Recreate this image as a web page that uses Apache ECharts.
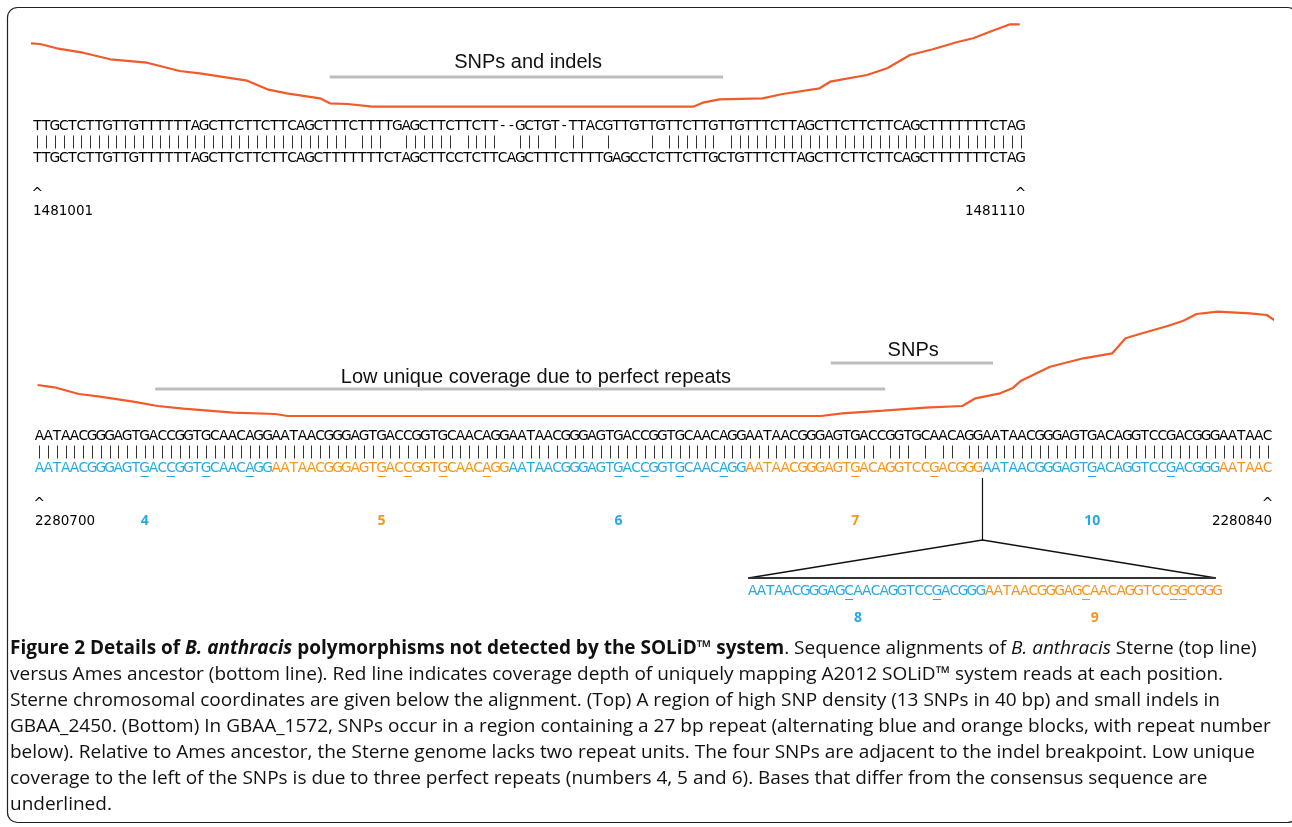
<!DOCTYPE html>
<html><head><meta charset="utf-8">
<script src="https://cdn.jsdelivr.net/npm/echarts@6/dist/echarts.min.js"></script>
<style>html,body{margin:0;padding:0;background:#fff}#c{width:1292px;height:827px}</style>
</head><body><div id="c"></div>
<script>
// ================= DATA =================
// Top panel (GBAA_2450): Sterne (top line) vs Ames ancestor (bottom line)
const topSterne = "TTGCTCTTGTTGTTTTTTAGCTTCTTCTTCAGCTTTCTTTTGAGCTTCTTCTT--GCTGT-TTACGTTGTTGTTCTTGTTGTTTCTTAGCTTCTTCTTCAGCTTTTTTTCTAG";
const topAmes   = "TTGCTCTTGTTGTTTTTTAGCTTCTTCTTCAGCTTTTTTTCTAGCTTCCTCTTCAGCTTTCTTTTGAGCCTCTTCTTGCTGTTTCTTAGCTTCTTCTTCAGCTTTTTTTCTAG";
const topCoords = ["1481001", "1481110"];
// coverage depth (alignment column, depth)
const topCovPos   = [-0.8, 0.3, 2.2, 5.2, 8.3, 12.5, 14.3, 16.2, 18.5, 23.9, 26.2, 28.4, 32.2, 33.3, 35.3, 38.2, 74.7, 75.8, 77.7, 82.6, 84.9, 89.1, 90.3, 94.5, 96.8, 99.4, 102.0, 104.7, 106.6, 108.5, 110.8, 111.9];
const topCovDepth = [66.7, 66, 61.7, 57.3, 50.7, 47.3, 43.3, 39, 36.7, 29.3, 20.7, 16.7, 11.7, 6.7, 6, 3.3, 3.3, 7.3, 10.7, 11.7, 16, 21.7, 28.3, 35, 41.7, 55, 60.7, 67.7, 71.7, 78.3, 85.7, 85.7];
const topAnnotLabels = ["SNPs and indels"];
const topAnnotFrom   = [33.3];
const topAnnotTo     = [78.1];
const topAnnotText   = [55.9];

// Bottom panel (GBAA_1572)
const botSterne = "AATAACGGGAGTGACCGGTGCAACAGGAATAACGGGAGTGACCGGTGCAACAGGAATAACGGGAGTGACCGGTGCAACAGGAATAACGGGAGTGACCGGTGCAACAGGAATAACGGGAGTGACAGGTCCGACGGGAATAAC";
const botAmesBlocks = ["AATAACGGGAGTGACCGGTGCAACAGG", "AATAACGGGAGTGACCGGTGCAACAGG", "AATAACGGGAGTGACCGGTGCAACAGG", "AATAACGGGAGTGACAGGTCCGACGGG", "AATAACGGGAGTGACAGGTCCGACGGG", "AATAAC"];
const botBlockNums  = ["4", "5", "6", "7", "10", ""];
const botBlockUnder = [[12, 15, 19, 24], [12, 15, 19, 24], [12, 15, 19, 24], [12, 21], [12, 21], []];
const botCoords = ["2280700", "2280840"];
const insetBlocks = ["AATAACGGGAGCAACAGGTCCGACGGG", "AATAACGGGAGCAACAGGTCCGGCGGG"];
const insetNums   = ["8", "9"];
const insetUnder  = [[11, 21], [11, 21, 22]];
const botCovPos   = [-0.2, 1.7, 4.5, 6.9, 10.7, 13.5, 16.4, 22.1, 26.9, 28.3, 89.1, 91.5, 96.2, 101.0, 105.2, 106.7, 109.5, 110.9, 111.9, 115.2, 119.0, 122.3, 123.8, 125.7, 128.6, 130.4, 131.9, 134.3, 138.0, 139.9, 141.3, 142.2];
const botCovDepth = [35, 32.7, 26, 23.3, 18.3, 14, 11.3, 7.3, 6, 4, 4, 6.7, 9.3, 12.3, 14, 21.7, 26.7, 31.7, 39.3, 53.3, 61.7, 66.7, 81.7, 86.7, 94, 99.3, 106, 108.3, 106.7, 105, 96.7, 95.7];
const botAnnotLabels = ["Low unique coverage due to perfect repeats", "SNPs"];
const botAnnotFrom   = [13.2, 90.2];
const botAnnotTo     = [96.4, 108.7];
const botAnnotText   = [56.6, 99.6];

// ================= STYLE / LAYOUT =================
const BLUE = '#27AAE1', ORANGE = '#F7941D', RED = '#F15A29', GREY = '#BDBDBD';
const SEQ_FONT = '13.8px "DejaVu Sans"';
const COORD_FONT = '13.5px "DejaVu Sans"';
const NUM_FONT = 'bold 14px "Open Sans"';
const ANN_FONT = '20px "Liberation Sans"';
const ROW = {seq1: 16, match: 32, seq2: 48, caret: 84, coord: 101, apex: 120, base: 158, inset: 171, insetNum: 198};
const ANN_BAR = {top: [33], bot: [31, 57]};
const ANN_TXT = {top: [48], bot: [43, 70]};
const INSET_OFFSET = 81.3;
const blockColor = i => (i % 2 === 0 ? BLUE : ORANGE);

// ================= BUILD ITEMS =================
function alignmentItems(s1, s2Colors, s2, s2Under) {
  const items = [];
  for (let i = 0; i < s1.length; i++) {
    items.push({c: i, r: ROW.seq1, t: s1[i], color: '#000', font: SEQ_FONT});
    if (s1[i] === s2[i] && s1[i] !== '-') items.push({c: i, r: ROW.match, kind: 'bar'});
    items.push({c: i, r: ROW.seq2, t: s2[i], color: s2Colors[i], font: SEQ_FONT, ul: s2Under[i]});
  }
  return items;
}
// top
const topItems = alignmentItems(topSterne, Array(topAmes.length).fill('#000'), topAmes, Array(topAmes.length).fill(false));
topItems.push({c: 0, r: ROW.caret, t: '^', color: '#000', font: SEQ_FONT});
topItems.push({c: topSterne.length - 1, r: ROW.caret, t: '^', color: '#000', font: SEQ_FONT});
topItems.push({c: -0.5, r: ROW.coord, t: topCoords[0], color: '#000', font: COORD_FONT, align: 'left'});
topItems.push({c: topSterne.length - 0.5, r: ROW.coord, t: topCoords[1], color: '#000', font: COORD_FONT, align: 'right'});

// bottom
let botAmes = '', botColors = [], botUl = [];
const blockStarts = [];
botAmesBlocks.forEach((b, k) => {
  blockStarts.push(botAmes.length);
  for (let j = 0; j < b.length; j++) { botColors.push(blockColor(k)); botUl.push(botBlockUnder[k].includes(j)); }
  botAmes += b;
});
const botItems = alignmentItems(botSterne, botColors, botAmes, botUl);
botItems.push({c: 0, r: ROW.caret, t: '^', color: '#000', font: SEQ_FONT});
botItems.push({c: botSterne.length - 1, r: ROW.caret, t: '^', color: '#000', font: SEQ_FONT});
botItems.push({c: -0.5, r: ROW.coord, t: botCoords[0], color: '#000', font: COORD_FONT, align: 'left'});
botItems.push({c: botSterne.length - 0.5, r: ROW.coord, t: botCoords[1], color: '#000', font: COORD_FONT, align: 'right'});
botBlockNums.forEach((n, k) => { if (n) botItems.push({c: blockStarts[k] + 12, r: ROW.coord, t: n, color: blockColor(k), font: NUM_FONT}); });
// breakpoint & triangle
const BREAK = blockStarts[4] - 0.5;
let insetLen = 0; insetBlocks.forEach(b => insetLen += b.length);
botItems.push({c: BREAK, r: 58, kind: 'poly', pts: [[BREAK, 58], [BREAK, ROW.apex]], w: 1.2, stroke: '#111'});
botItems.push({c: BREAK, r: ROW.apex, kind: 'poly', pts: [[INSET_OFFSET - 0.5, ROW.base], [BREAK, ROW.apex], [INSET_OFFSET + insetLen - 1.2, ROW.base]], w: 1.3, stroke: '#111'});
botItems.push({c: INSET_OFFSET, r: ROW.base, kind: 'poly', pts: [[INSET_OFFSET - 0.5, ROW.base], [INSET_OFFSET + insetLen - 1.2, ROW.base]], w: 2, stroke: '#333'});
// inset
let ic = 0;
insetBlocks.forEach((b, k) => {
  for (let j = 0; j < b.length; j++) {
    botItems.push({c: INSET_OFFSET + ic + j, r: ROW.inset, t: b[j], color: blockColor(k), font: SEQ_FONT, ul: insetUnder[k].includes(j)});
  }
  botItems.push({c: INSET_OFFSET + ic + 12, r: ROW.insetNum, t: insetNums[k], color: blockColor(k), font: NUM_FONT});
  ic += b.length;
});

// ================= SERIES HELPERS =================
function textSeries(idx, items) {
  return {
    type: 'custom', coordinateSystem: 'cartesian2d', xAxisIndex: idx, yAxisIndex: idx,
    silent: true, clip: false, animation: false,
    data: items.map(d => [d.c, d.r]),
    renderItem: function (params, api) {
      const d = items[params.dataIndex];
      const p = api.coord([api.value(0), api.value(1)]);
      if (d.kind === 'bar') {
        const x = Math.round(p[0]) + 0.5;
        return {type: 'line', shape: {x1: x, y1: p[1] - 6.5, x2: x, y2: p[1] + 6.5}, style: {stroke: '#333', lineWidth: 1}};
      }
      if (d.kind === 'poly') {
        return {type: 'polyline', shape: {points: d.pts.map(q => api.coord(q))}, style: {stroke: d.stroke, lineWidth: d.w, fill: null}};
      }
      const children = [{type: 'text', x: p[0], y: p[1], style: {text: d.t, fill: d.color, font: d.font, align: d.align || 'center', verticalAlign: 'middle'}}];
      if (d.ul) {
        const half = api.size([1, 0])[0] / 2;
        const y = Math.round(p[1] + 7.5) + 0.5;
        children.push({type: 'line', shape: {x1: p[0] - half + 0.3, y1: y, x2: p[0] + half - 0.3, y2: y}, style: {stroke: d.color, lineWidth: 1}});
      }
      return {type: 'group', children: children};
    }
  };
}
function annotSeries(idx, labels, from, to, textAt, barLv, txtLv) {
  return {
    type: 'custom', coordinateSystem: 'cartesian2d', xAxisIndex: idx, yAxisIndex: idx,
    silent: true, clip: false, animation: false,
    data: labels.map((l, i) => [from[i], to[i], barLv[i], textAt[i], txtLv[i]]),
    renderItem: function (params, api) {
      const a = api.coord([api.value(0), api.value(2)]);
      const b = api.coord([api.value(1), api.value(2)]);
      const t = api.coord([api.value(3), api.value(4)]);
      return {type: 'group', children: [
        {type: 'rect', shape: {x: a[0], y: a[1] - 1.5, width: b[0] - a[0], height: 3}, style: {fill: GREY}},
        {type: 'text', x: t[0], y: t[1], style: {text: labels[params.dataIndex], fill: '#111', font: ANN_FONT, align: 'center', verticalAlign: 'middle'}}
      ]};
    }
  };
}
function xAx(idx, n) { return {type: 'value', gridIndex: idx, min: -0.5, max: n - 0.5, show: false}; }

const topN = topSterne.length, botN = botSterne.length;
const option = {
  animation: false,
  grid: [
    {left: 33, width: 992, top: 20, height: 90},
    {left: 33, width: 992, top: 110, height: 120},
    {left: 35, width: 1237, top: 305, height: 115},
    {left: 35, width: 1237, top: 420, height: 210}
  ],
  xAxis: [xAx(0, topN), xAx(1, topN), xAx(2, botN), xAx(3, botN)],
  yAxis: [
    {type: 'value', gridIndex: 0, min: 0, max: 90, show: false},
    {type: 'value', gridIndex: 1, min: 0, max: 120, inverse: true, show: false},
    {type: 'value', gridIndex: 2, min: 0, max: 115, show: false},
    {type: 'value', gridIndex: 3, min: 0, max: 210, inverse: true, show: false}
  ],
  series: [
    {type: 'line', xAxisIndex: 0, yAxisIndex: 0, data: topCovPos.map((x, i) => [x, topCovDepth[i]]), showSymbol: false, clip: false, lineStyle: {color: RED, width: 2.2}, silent: true},
    {type: 'line', xAxisIndex: 2, yAxisIndex: 2, data: botCovPos.map((x, i) => [x, botCovDepth[i]]), showSymbol: false, clip: false, lineStyle: {color: RED, width: 2.2}, silent: true},
    annotSeries(0, topAnnotLabels, topAnnotFrom, topAnnotTo, topAnnotText, ANN_BAR.top, ANN_TXT.top),
    annotSeries(2, botAnnotLabels, botAnnotFrom, botAnnotTo, botAnnotText, ANN_BAR.bot, ANN_TXT.bot),
    textSeries(1, topItems),
    textSeries(3, botItems)
  ],
  graphic: []
};

// caption
const CAP_FONT = 'Open Sans', CAP_SIZE = 19;
const capLines = [
  '{b|Figure 2 Details of }{bi|B. anthracis}{b| polymorphisms not detected by the SOLiD™ system}{n|. Sequence alignments of }{i|B. anthracis}{n| Sterne (top line)}',
  '{n|versus Ames ancestor (bottom line). Red line indicates coverage depth of uniquely mapping A2012 SOLiD™ system reads at each position.}',
  '{n|Sterne chromosomal coordinates are given below the alignment. (Top) A region of high SNP density (13 SNPs in 40 bp) and small indels in}',
  '{n|GBAA_2450. (Bottom) In GBAA_1572, SNPs occur in a region containing a 27 bp repeat (alternating blue and orange blocks, with repeat number}',
  '{n|below). Relative to Ames ancestor, the Sterne genome lacks two repeat units. The four SNPs are adjacent to the indel breakpoint. Low unique}',
  '{n|coverage to the left of the SNPs is due to three perfect repeats (numbers 4, 5 and 6). Bases that differ from the consensus sequence are}',
  '{n|underlined.}'
];
const rich = {
  n: {fontFamily: CAP_FONT, fontSize: CAP_SIZE, fill: '#111'},
  b: {fontFamily: CAP_FONT, fontSize: CAP_SIZE, fontWeight: 'bold', fill: '#111'},
  i: {fontFamily: CAP_FONT, fontSize: CAP_SIZE, fontStyle: 'italic', fill: '#111'},
  bi: {fontFamily: CAP_FONT, fontSize: CAP_SIZE, fontWeight: 'bold', fontStyle: 'italic', fill: '#111'}
};
option.graphic.push({type: 'rect', shape: {x: 7.5, y: 7.5, width: 1290, height: 815, r: 10}, style: {fill: null, stroke: '#222', lineWidth: 1.2}, silent: true});
capLines.forEach((t, k) => {
  option.graphic.push({type: 'text', x: 10, y: 649 + k * 26, style: {text: t, rich: rich, verticalAlign: 'middle', align: 'left'}, silent: true});
});

const chart = echarts.init(document.getElementById('c'), null, {renderer: 'canvas'});
chart.setOption(option);
</script>
</body></html>
